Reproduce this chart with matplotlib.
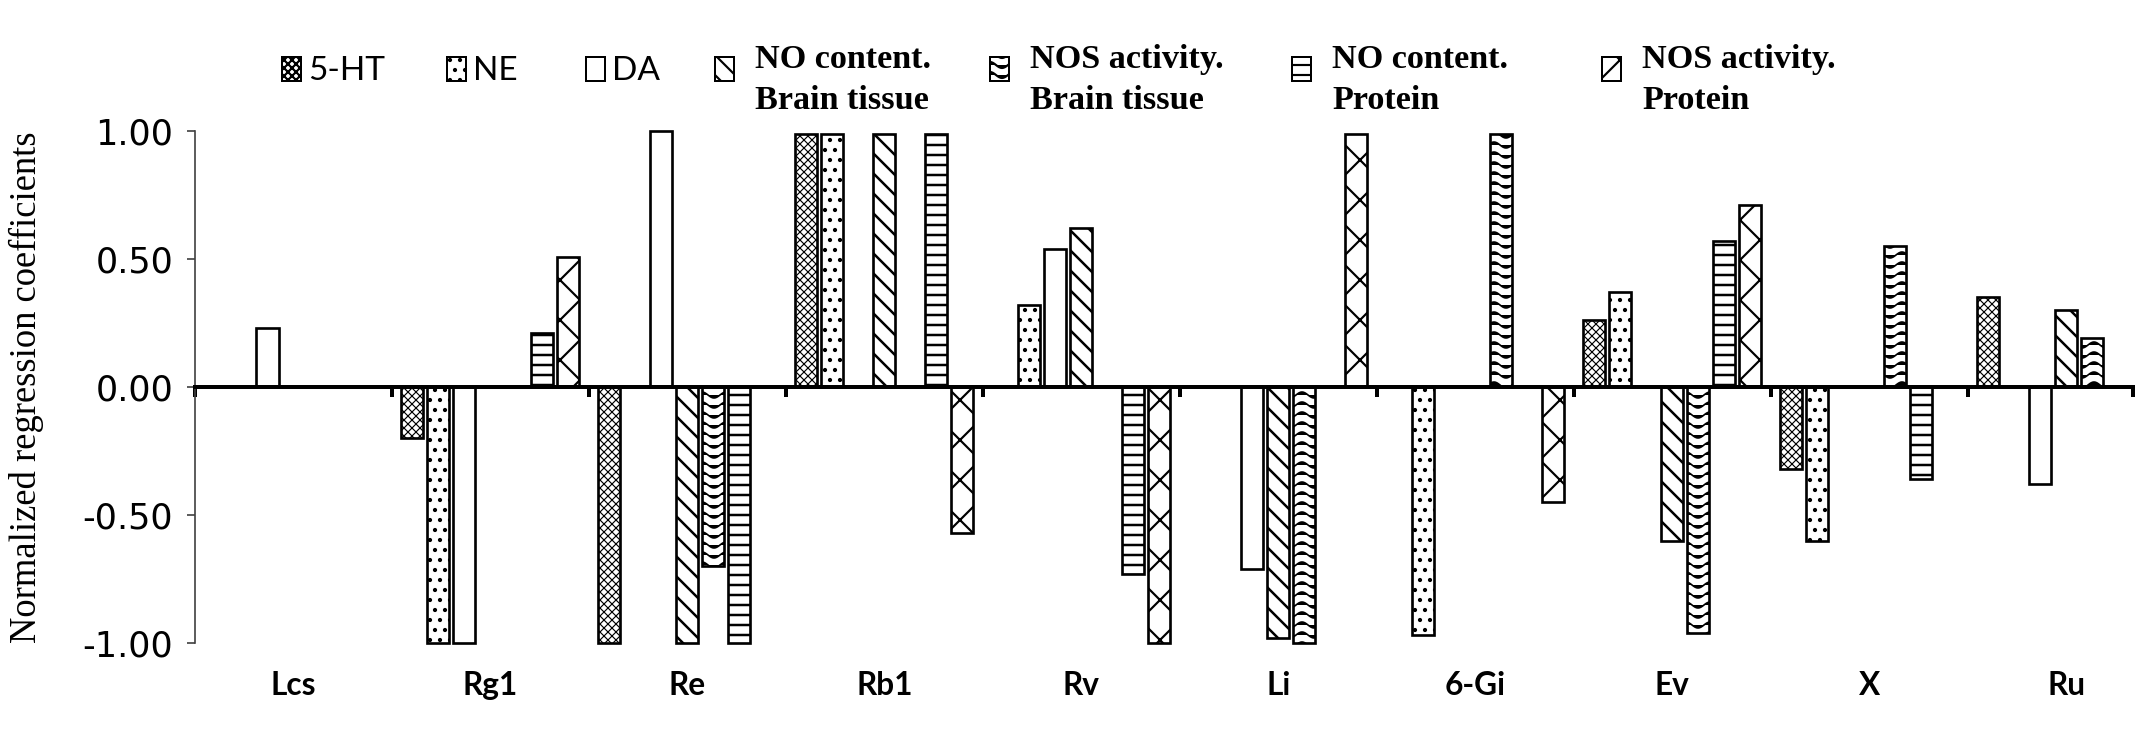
import warnings
import numpy as np
import matplotlib
matplotlib.use('Agg')
import matplotlib.pyplot as plt
from matplotlib import hatch as mhatch
from matplotlib.path import Path
from matplotlib.patches import Rectangle
from matplotlib.transforms import blended_transform_factory

warnings.filterwarnings('ignore')

# categories and series
herbs = ['Lcs', 'Rg1', 'Re', 'Rb1', 'Rv', 'Li', '6-Gi', 'Ev', 'X', 'Ru']
series = ['5-HT', 'NE', 'DA',
          'NO content.\nBrain tissue', 'NOS activity.\nBrain tissue',
          'NO content.\nProtein', 'NOS activity.\nProtein']

# normalized regression coefficients, 0 = no bar
ht5 = [0, -0.20, -1.00, 0.99, 0, 0, 0, 0.26, -0.32, 0.35]
ne = [0, -1.00, 0, 0.99, 0.32, 0, -0.97, 0.37, -0.60, 0]
da = [0.23, -1.00, 1.00, 0, 0.54, -0.71, 0, 0, 0, -0.38]
no_bt = [0, 0, -1.00, 0.99, 0.62, -0.98, 0, -0.60, 0, 0.30]
nos_bt = [0, 0, -0.70, 0, 0, -1.00, 0.99, -0.96, 0.55, 0.19]
no_pr = [0, 0.21, -1.00, 0.99, -0.73, 0, 0, 0.57, -0.36, 0]
nos_pr = [0, 0.51, 0, -0.57, -1.00, 0.99, -0.45, 0.71, 0, 0]

y_ticks = [-1.0, -0.5, 0.0, 0.5, 1.0]


class WaveHatch(mhatch.HatchPatternBase):
    """wavy lines for '~' hatch"""
    def __init__(self, hatch, density):
        self.num_lines = int(hatch.count('~') * density)
        self.npts = 81
        self.num_vertices = self.num_lines * self.npts

    def set_vertices_and_codes(self, vertices, codes):
        t = np.linspace(0, 1, self.npts)
        for i in range(self.num_lines):
            s = slice(i * self.npts, (i + 1) * self.npts)
            vertices[s, 0] = t
            vertices[s, 1] = (i + 0.5) / self.num_lines + \
                0.3 / self.num_lines * np.sin(2 * np.pi * 5 * t)
            codes[s] = Path.LINETO
            codes[i * self.npts] = Path.MOVETO


mhatch._hatch_types.append(WaveHatch)

plt.rcParams['font.family'] = ['Lato', 'DejaVu Sans']
plt.rcParams['hatch.linewidth'] = 1.3
plt.rcParams['axes.unicode_minus'] = False

W, H, DPI = 2150, 730, 120
fig = plt.figure(figsize=(W / DPI, H / DPI), dpi=DPI)
ax = fig.add_axes([195 / W, 1 - 648 / H, (2133 - 195) / W, 522 / H])

values = [ht5, ne, da, no_bt, nos_bt, no_pr, nos_pr]
hatches = ['xxxxx', '..', '', '\\\\', '~~', '--', 'x']
hatch_lw = [0.7, 1.3, 1.3, 1.5, 1.0, 1.5, 1.3]

x = np.arange(len(herbs))
slot = 0.132
for k, vals in enumerate(values):
    v = np.array(vals, dtype=float)
    v[v == 0] = np.nan
    bars = ax.bar(x + 0.5 + (k - 3) * slot, v, width=0.112,
                  facecolor='white', edgecolor='black', linewidth=1.6,
                  hatch=hatches[k], zorder=2)
    for b in bars:
        if hasattr(b, 'set_hatch_linewidth'):
            b.set_hatch_linewidth(hatch_lw[k])

ax.set_xlim(0, 9.84)
ax.set_ylim(-1.02, 1.02)
for side in ['top', 'right']:
    ax.spines[side].set_visible(False)
ax.spines['bottom'].set_position(('data', 0))
ax.spines['bottom'].set_linewidth(2.4)
ax.spines['bottom'].set_zorder(3)
ax.spines['left'].set_bounds(-1, 1)
ax.spines['left'].set_color('#404040')
ax.spines['left'].set_linewidth(1.0)

ax.set_xticks(list(range(len(herbs))) + [9.84])
ax.set_xticklabels([])
ax.tick_params(axis='x', direction='out', length=6, width=2.4)
ax.set_yticks(y_ticks)
ax.set_yticklabels(['%.2f' % t for t in y_ticks], family='DejaVu Sans')
ax.tick_params(axis='y', direction='out', length=5, width=1.0,
               color='#404040', labelsize=21, pad=8)

trans = blended_transform_factory(ax.transData, ax.transAxes)
for i, name in enumerate(herbs):
    ax.text(i + 0.5, -0.071, name, transform=trans, ha='center', va='center',
            fontsize=19, fontweight='bold')

ax.set_ylabel('Normalized regression coefficients', family='Liberation Serif',
              fontsize=22)
ax.yaxis.set_label_coords(-0.078, 0.5)

# legend row at the top
box_x = [282, 447, 586, 715, 990, 1292, 1602]
for k, name in enumerate(series):
    bx = box_x[k]
    fig.add_artist(Rectangle((bx / W, 1 - 81 / H), 19 / W, 24 / H,
                             transform=fig.transFigure, facecolor='white',
                             edgecolor='black', linewidth=1.2,
                             hatch=hatches[k]))
    lines = name.split('\n')
    if len(lines) == 1:
        fig.text((bx + 26) / W, 1 - 80 / H, lines[0], fontsize=20,
                 va='baseline', ha='left')
    else:
        fig.text((bx + 40) / W, 1 - 68 / H, lines[0], fontsize=20.5,
                 family='Liberation Serif', fontweight='bold',
                 va='baseline', ha='left')
        fig.text((bx + 40) / W, 1 - 109 / H, lines[1], fontsize=20.5,
                 family='Liberation Serif', fontweight='bold',
                 va='baseline', ha='left')

fig.savefig('out.png', dpi=DPI)
